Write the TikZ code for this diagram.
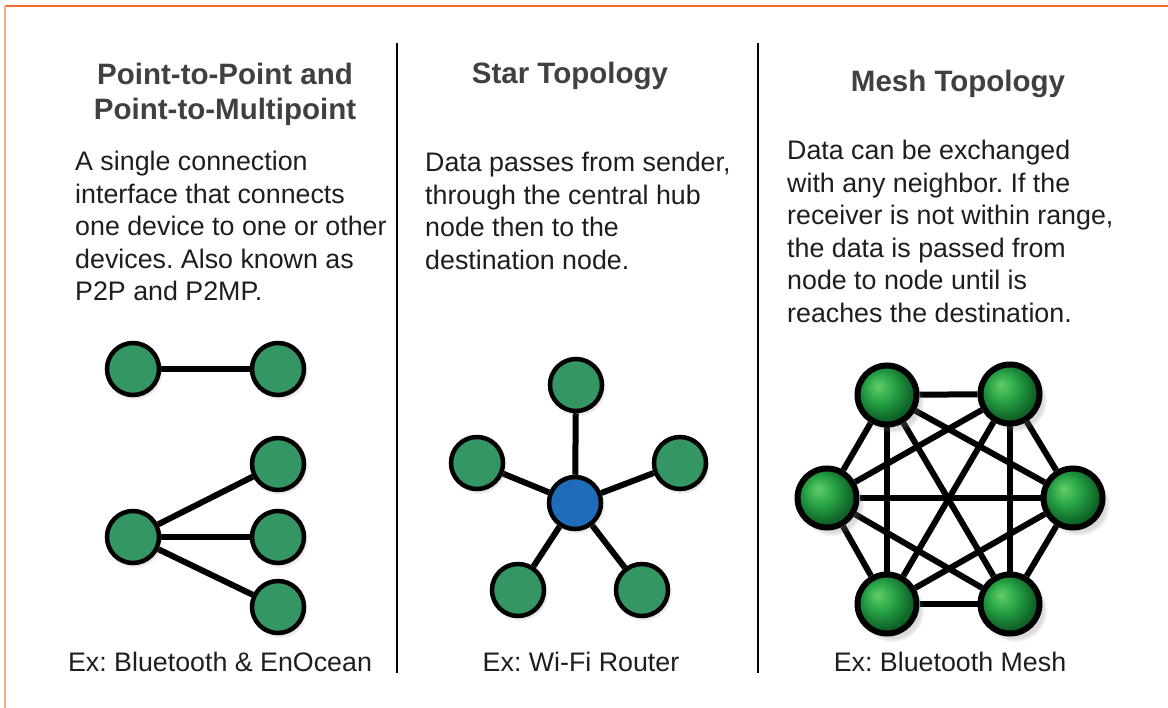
\documentclass[tikz,border=0pt]{standalone}
\usepackage{fontspec}
\setmainfont{Liberation Sans}
\usetikzlibrary{shadows}
\frenchspacing
\definecolor{ttl}{RGB}{64,64,64}
\definecolor{txt}{RGB}{30,30,30}
\definecolor{pgreen}{RGB}{52,150,98}
\definecolor{hblue}{RGB}{30,108,186}
\definecolor{orng}{RGB}{240,110,50}
\definecolor{salmon}{RGB}{245,170,140}
\definecolor{mlight}{RGB}{100,205,105}
\definecolor{mmid}{RGB}{40,165,70}
\definecolor{mdark}{RGB}{15,100,40}
\pgfdeclareradialshading{meshball}{\pgfqpoint{-8bp}{8bp}}{color(0bp)=(mlight); color(12bp)=(mmid); color(25bp)=(mdark); color(50bp)=(mdark)}
\pgfdeclarelayer{paper}
\pgfdeclarelayer{links}
\pgfsetlayers{paper,links,main}
\begin{document}
\begin{tikzpicture}[x=1pt,y=-1pt,
  ttlstyle/.style={inner sep=0pt, text=ttl, font=\fontsize{29.5}{35}\selectfont\bfseries},
  bodystyle/.style={inner sep=0pt, text=txt, font=\fontsize{26.8}{32.5}\selectfont},
  footstyle/.style={inner sep=0pt, text=txt, font=\fontsize{26.8}{32.5}\selectfont},
  divider/.style={line width=2.3pt, black},
  link/.style={line width=6pt, black},
  pnode/.style={circle, draw=black, line width=4.5pt, fill=pgreen, minimum size=52pt, inner sep=0pt,
    circular drop shadow={shadow xshift=1.5pt, shadow yshift=-2.5pt, opacity=.25}},
  hubnode/.style={pnode, fill=hblue},
  mnode/.style={circle, draw=black, line width=6pt, shade, shading=meshball, minimum size=59pt, inner sep=0pt,
    circular drop shadow={shadow xshift=5pt, shadow yshift=-6pt, opacity=.28, shadow scale=1.08}}
]
\begin{pgfonlayer}{paper}
\fill[white] (0,0) rectangle (1168,708);
\end{pgfonlayer}
\useasboundingbox (0,0) rectangle (1168,708);

% frame
\draw[orng, line width=2pt] (5,6) -- (1168,6);
\draw[salmon, line width=1.5pt] (5,6) -- (5,708);

% dividers
\draw[divider] (397,43) -- (397,673);
\draw[divider] (758,43) -- (758,673);

% titles
\node[ttlstyle, anchor=base] (t1) at (225,85) {\parbox[t]{340pt}{\centering Point-to-Point and\\Point-to-Multipoint}};
\node[ttlstyle, anchor=base] (t2) at (570,84) {Star Topology};
\node[ttlstyle, anchor=base] (t3) at (958,92) {Mesh Topology};

% descriptions
\node[bodystyle, anchor=base west] (d1) at (75,171) {\parbox[t]{360pt}{A single connection\\interface that connects\\one device to one or other\\devices. Also known as\\P2P and P2MP.}};
\node[bodystyle, anchor=base west] (d2) at (425,172) {\parbox[t]{360pt}{Data passes from sender,\\through the central hub\\node then to the\\destination node.}};
\node[bodystyle, anchor=base west] (d3) at (787,160) {\parbox[t]{360pt}{Data can be exchanged\\with any neighbor. If the\\receiver is not within range,\\the data is passed from\\node to node until is\\reaches the destination.}};

% footers
\node[footstyle, anchor=base] (f1) at (220,671) {Ex: Bluetooth \& EnOcean};
\node[footstyle, anchor=base] (f2) at (581,671) {Ex: Wi-Fi Router};
\node[footstyle, anchor=base] (f3) at (950,671) {Ex: Bluetooth Mesh};

% point-to-point
\node[pnode] (pa) at (133,369) {};
\node[pnode] (pb) at (278,369) {};
% point-to-multipoint
\node[pnode] (m0) at (133,537) {};
\node[pnode] (m1) at (278,464) {};
\node[pnode] (m2) at (278,537) {};
\node[pnode] (m3) at (278,607) {};

% star
\node[hubnode] (hub) at (575,503) {};
\node[pnode] (s1) at (576,385) {};
\node[pnode] (s2) at (477,463) {};
\node[pnode] (s3) at (680,463) {};
\node[pnode] (s4) at (518,590) {};
\node[pnode] (s5) at (642,590) {};

% mesh
\node[mnode] (n1) at (887,395) {};
\node[mnode] (n2) at (1010,394) {};
\node[mnode] (n3) at (827,498) {};
\node[mnode] (n4) at (1073,498) {};
\node[mnode] (n5) at (887,604) {};
\node[mnode] (n6) at (1010,604) {};

\begin{pgfonlayer}{links}
\draw[link] (pa) -- (pb);
\draw[link] (m0) -- (m1);
\draw[link] (m0) -- (m2);
\draw[link] (m0) -- (m3);
\foreach \s in {s1,s2,s3,s4,s5} \draw[link] (hub) -- (\s);
\foreach \a/\b in {n1/n2,n1/n3,n1/n4,n1/n5,n1/n6,n2/n3,n2/n4,n2/n5,n2/n6,n3/n4,n3/n5,n3/n6,n4/n5,n4/n6,n5/n6}
  \draw[link] (\a) -- (\b);
\end{pgfonlayer}
\end{tikzpicture}
\end{document}
